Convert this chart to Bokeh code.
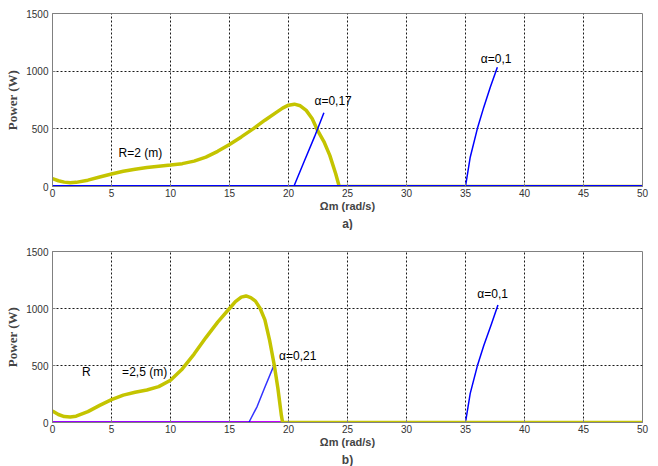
from bokeh.plotting import figure
from bokeh.layouts import column
from bokeh.models import Range1d, FixedTicker, Label, Title
from bokeh.embed import file_html
from bokeh.resources import INLINE

# ---------------- data ----------------
x_ticks = [0, 5, 10, 15, 20, 25, 30, 35, 40, 45, 50]
y_ticks = [0, 500, 1000, 1500]

# (a) R = 2 m
a_r_x = [0, 0.5, 1, 1.5, 2, 3, 4, 5, 6, 7, 8, 9, 10, 11, 12, 13, 14, 15, 16, 17, 18, 19,
         19.5, 20, 20.5, 21, 21.5, 22, 22.5, 23, 23.5, 24, 24.3, 50]
a_r_y = [68, 50, 38, 33, 36, 55, 82, 108, 132, 150, 165, 176, 186, 198, 220, 255, 305, 365,
         430, 500, 575, 645, 680, 705, 714, 700, 660, 590, 480, 390, 270, 110, 0, 0]
a_a017_x = [0, 20.45, 21.3, 22.2, 23.0]
a_a017_y = [0, 0, 210, 430, 640]
a_a01_x = [0, 35, 35.4, 36.0, 36.55, 37.1, 37.7]
a_a01_y = [0, 0, 254, 500, 688, 861, 1034]
a_base_x = [0, 50]
a_base_y = [0, 0]

# (b) R = 2.5 m
b_r_x = [0, 0.5, 1, 1.5, 2, 3, 4, 5, 6, 7, 8, 9, 10, 11, 12, 13, 14, 15, 15.5, 16, 16.4,
         16.8, 17.2, 17.6, 18, 18.4, 18.8, 19.1, 19.4, 19.5, 50]
b_r_y = [100, 70, 52, 48, 55, 95, 150, 200, 240, 265, 285, 315, 370, 470, 600, 745, 880,
         1000, 1060, 1100, 1110, 1095, 1065, 1000, 900, 720, 500, 300, 60, 0, 0]
b_a021_x = [0, 16.64, 17.35, 17.97, 18.8]
b_a021_y = [0, 0, 142, 302, 510]
b_a01_x = [0, 35, 35.4, 36.0, 36.55, 37.2, 37.75]
b_a01_y = [0, 0, 255, 495, 675, 865, 1030]
b_base_x = [0, 50]
b_base_y = [0, 0]

# annotations: (text, x, y)
a_labels = [("R=2 (m)", 5.6, 288), ("\u03b1=0,17", 22.2, 740), ("\u03b1=0,1", 36.3, 1105)]
b_labels = [("R", 2.5, 440), ("=2,5 (m)", 5.9, 440), ("\u03b1=0,21", 19.2, 580), ("\u03b1=0,1", 36.0, 1130)]

YELLOW = "#c4c400"
BLUE = "#0000ff"
MAGENTA = "#ff00ff"
GRAY = "#808080"
SANS = "Liberation Sans"


def make_fig(height, top, bottom, tag):
    p = figure(width=658, height=height, output_backend="svg", toolbar_location=None,
               x_range=Range1d(0, 50), y_range=Range1d(0, 1500),
               min_border_left=52, min_border_right=16,
               min_border_top=top, min_border_bottom=bottom)
    p.background_fill_color = "white"
    p.border_fill_color = "white"
    p.outline_line_color = GRAY
    p.outline_line_width = 1
    for ax in (p.xaxis[0], p.yaxis[0]):
        ax.axis_line_color = GRAY
        ax.major_tick_line_color = GRAY
        ax.major_tick_in = 3
        ax.major_tick_out = 0
        ax.minor_tick_line_color = None
        ax.major_label_text_font = SANS
        ax.major_label_text_font_size = "10px"
        ax.major_label_text_color = "#333333"
    p.xaxis.ticker = FixedTicker(ticks=x_ticks)
    p.yaxis.ticker = FixedTicker(ticks=y_ticks)
    p.xaxis.major_label_standoff = 2
    p.yaxis.major_label_standoff = 4
    p.xaxis.axis_label = "\u03a9m (rad/s)"
    p.xaxis.axis_label_text_font = SANS
    p.xaxis.axis_label_text_font_style = "bold"
    p.xaxis.axis_label_text_font_size = "11px"
    p.xaxis.axis_label_standoff = 0
    p.yaxis.axis_label = "Power (W)"
    p.yaxis.axis_label_text_font = "Liberation Serif"
    p.yaxis.axis_label_text_font_style = "bold"
    p.yaxis.axis_label_text_font_size = "13px"
    p.yaxis.axis_label_standoff = 3
    for g in (p.xgrid[0], p.ygrid[0]):
        g.grid_line_color = "black"
        g.grid_line_dash = "2 2"
        g.grid_line_width = 1
        g.grid_line_alpha = 0.9
    t = Title(text=tag, align="center", text_font=SANS, text_font_style="bold",
              text_font_size="12px", standoff=0, offset=0)
    p.add_layout(t, "below")
    return p


def add_labels(p, labels):
    for txt, x, y in labels:
        p.add_layout(Label(x=x, y=y, text=txt, text_font=SANS, text_font_size="12px",
                           text_color="black", text_baseline="middle"))


pa = make_fig(230, 13, 44, "a)")
pa.line(a_base_x, a_base_y, color=MAGENTA, line_width=3)
pa.line(a_r_x, a_r_y, color=YELLOW, line_width=3.5)
pa.line(a_a017_x, a_a017_y, color=BLUE, line_width=1.5)
pa.line(a_a01_x, a_a01_y, color=BLUE, line_width=1.5)
pa.line(a_base_x, a_base_y, color=BLUE, line_width=3)
add_labels(pa, a_labels)

pb = make_fig(236, 21, 43, "b)")
pb.line(b_base_x, b_base_y, color=MAGENTA, line_width=3)
pb.line(b_a021_x, b_a021_y, color=BLUE, line_width=1.5, alpha=0.8)
pb.line(b_a01_x, b_a01_y, color=BLUE, line_width=1.5)
pb.line(b_r_x, b_r_y, color=YELLOW, line_width=3.5)
add_labels(pb, b_labels)

layout = column(pa, pb, spacing=0)
open("out.html", "w").write(file_html(layout, INLINE))
